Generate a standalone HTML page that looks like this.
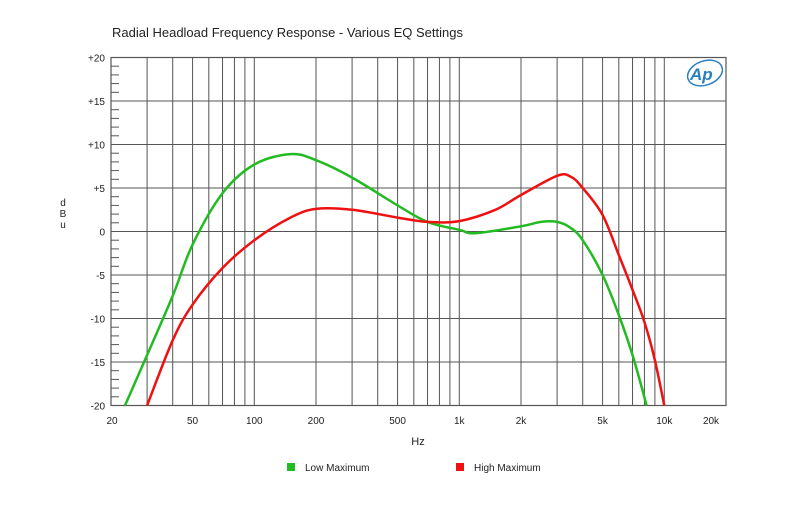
<!DOCTYPE html>
<html><head><meta charset="utf-8"><style>
body{margin:0;background:#fff;font-family:"Liberation Sans",Arial,sans-serif}
svg text{font-family:"Liberation Sans",Arial,sans-serif;fill:#222}
</style></head><body>
<svg id="c" width="800" height="500">
<text x="112" y="37" font-size="13">Radial Headload Frequency Response - Various EQ Settings</text>
<g>
<ellipse cx="705" cy="73" rx="18" ry="12" fill="none" stroke="#2a7fc1" stroke-width="1.5" transform="rotate(-20 705 73)"/>
<text x="690" y="80" font-size="17" font-style="italic" font-weight="bold" style="fill:#2a7fc1">Ap</text>
</g>
<g id="grid"></g>
<g id="curves"></g>
<text x="63" y="206" font-size="10" text-anchor="middle"><tspan x="63">d</tspan><tspan x="63" dy="11">B</tspan><tspan x="63" dy="11">u</tspan></text>
<text x="418" y="445" font-size="11" text-anchor="middle">Hz</text>
<g><rect x="287" y="463" width="8" height="8" fill="#22bb22"/><text x="305" y="471" font-size="10">Low Maximum</text></g>
<g><rect x="456" y="463" width="8" height="8" fill="#ee1111"/><text x="474" y="471" font-size="10">High Maximum</text></g>
</svg>
<script>
const xTickLabels=["20","50","100","200","500","1k","2k","5k","10k","20k"];
const xTickValues=[20,50,100,200,500,1000,2000,5000,10000,20000];
const yTickValues=[20,15,10,5,0,-5,-10,-15,-20];
const yTickLabels=["+20","+15","+10","+5","0","-5","-10","-15","-20"];
const lowFreq=[23.4,30,40,50,70,100,150,200,300,500,700,1000,1200,2000,2500,3000,3500,4000,5000,6000,7000,8200];
const lowDb=[-20,-14.2,-7.4,-1.5,4.4,7.7,8.9,8.2,6.2,3,1.1,0.2,-0.2,0.6,1.1,1.1,0.4,-1,-5,-9.6,-14.2,-20];
const highFreq=[30,40,50,70,100,150,200,300,500,700,1000,1500,2000,3000,3500,4000,5000,6000,7000,8000,9000,10000];
const highDb=[-20,-12.5,-8.4,-4.2,-1,1.6,2.6,2.5,1.6,1.1,1.2,2.5,4.2,6.4,6.3,5,1.9,-2.7,-6.7,-10.4,-14.8,-20];
const L=111,R=726,T=57.5,B=405.5;
const xs=f=>L+(R-L)*Math.log10(f/20)/3;
const ys=d=>T+(B-T)*(20-d)/40;
const NS="http://www.w3.org/2000/svg";
function mk(t,a,p){const e=document.createElementNS(NS,t);for(const k in a)e.setAttribute(k,a[k]);p.appendChild(e);return e;}
const g=document.getElementById('grid');
for(let dec=10;dec<=10000;dec*=10)for(let m=1;m<=9;m++){const f=dec*m;if(f<=20||f>=20000)continue;
const ln=mk('line',{x1:xs(f),x2:xs(f),y1:T,y2:B,stroke:'#555','stroke-width':1},g);

}
yTickValues.forEach((v,i)=>{const ln=mk('line',{x1:L,x2:R,y1:ys(v),y2:ys(v),stroke:'#555','stroke-width':1},g);


const t=mk('text',{x:L-6,y:ys(v)+4,'font-size':10,'text-anchor':'end'},g);t.textContent=yTickLabels[i];

});
for(let d=-19;d<20;d++){if(d%5===0)continue;mk('line',{x1:L,x2:L+8,y1:ys(d),y2:ys(d),stroke:'#555','stroke-width':1},g);}
mk('rect',{x:L,y:T,width:R-L,height:B-T,fill:'none',stroke:'#555','stroke-width':1.2},g);
xTickValues.forEach((v,i)=>{let x=xs(v);if(v===20000)x=711;if(v===20)x=112;
const t=mk('text',{x:x,y:424,'font-size':10,'text-anchor':'middle'},g);t.textContent=xTickLabels[i];

});
const c=document.getElementById('curves');
function curve(fr,db,col,name){
const P=fr.map((f,i)=>[xs(f),ys(db[i])]);
let d='M'+P[0][0].toFixed(1)+','+P[0][1].toFixed(1);
for(let i=0;i<P.length-1;i++){const p0=P[Math.max(i-1,0)],p1=P[i],p2=P[i+1],p3=P[Math.min(i+2,P.length-1)];
const c1=[p1[0]+(p2[0]-p0[0])/6,p1[1]+(p2[1]-p0[1])/6],c2=[p2[0]-(p3[0]-p1[0])/6,p2[1]-(p3[1]-p1[1])/6];
d+=' C'+c1.map(v=>v.toFixed(1)).join(',')+' '+c2.map(v=>v.toFixed(1)).join(',')+' '+p2.map(v=>v.toFixed(1)).join(',');}
const p=mk('path',{d:d,fill:'none',stroke:col,'stroke-width':2.5,'stroke-linejoin':'round'},c);

}
curve(lowFreq,lowDb,'#22bb22','low-maximum-line');
curve(highFreq,highDb,'#ee1111','high-maximum-line');
</script>
</body></html>
